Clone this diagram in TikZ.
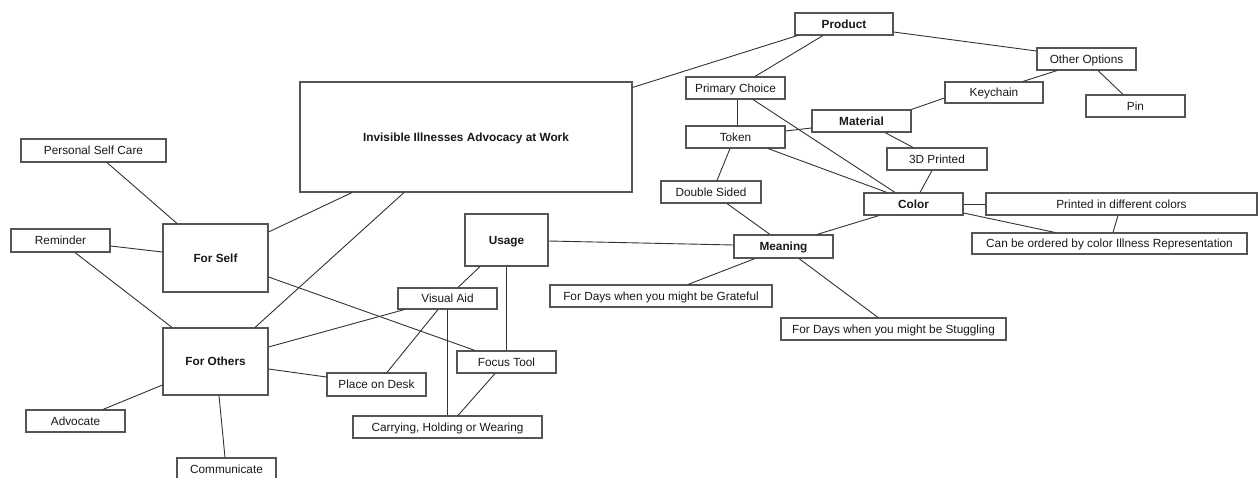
\documentclass[tikz,border=0pt]{standalone}
\usepackage{fontspec}
\setmainfont{Liberation Sans}
\usepackage{xcolor}
\usepackage{tikz}
\usetikzlibrary{positioning}
\definecolor{cborder}{RGB}{85,85,85}
\definecolor{cline}{RGB}{50,50,50}
\definecolor{ctext}{RGB}{25,25,25}

\begin{document}
\begin{tikzpicture}[x=1pt, y=-1pt,
    % Box styles
    item/.style={draw=cborder, line width=1.1pt, fill=white, inner sep=0pt,
                 minimum width=99pt, minimum height=22pt, text=ctext,
                 text height=8.5pt, text depth=0pt,
                 font=\fontsize{11.8}{13}\selectfont},
    topic/.style={item, font=\fontsize{11.8}{13}\selectfont\bfseries},
    link/.style={line width=0.9pt, color=cline},
  ]
  \useasboundingbox (0,0) rectangle (1258,478);

  % ===== CENTER: main topic =====
  \node[topic, minimum width=332pt, minimum height=110pt]
    (main) at (466, 137) {Invisible Illnesses Advocacy at Work};

  % ===== LEFT: For Self / For Others =====
  \node[topic, minimum width=105pt, minimum height=68pt] (self) at (215.5, 258) {For Self};
  \node[topic, minimum width=105pt, minimum height=67pt] (others) at (215.5, 361.5) {For Others};
  \node[item, minimum width=145pt, minimum height=23pt] (selfcare) at (93.5, 150.5) {Personal Self Care};
  \node[item, minimum height=23pt] (reminder) at (60.5, 240.5) {Reminder};
  \node[item] (advocate) at (75.5, 421) {Advocate};
  \node[item] (communicate) at (226.5, 469) {Communicate};

  \draw[link] ([xshift=13.5pt]selfcare.south) -- ([xshift=-38.5pt]self.north);
  \draw[link] ([yshift=-5.5pt]reminder.east) -- ([yshift=6pt]self.west);
  \draw[link] ([xshift=14.5pt]reminder.south) -- ([xshift=-43.5pt]others.north);
  \draw[link] ([yshift=-23.5pt]others.west) -- ([xshift=27.5pt]advocate.north);
  \draw[link] ([xshift=3.5pt]others.south) -- ([xshift=-1.5pt]communicate.north);
  \draw[link] ([yshift=26pt]self.east) -- ([xshift=-114pt]main.south);
  \draw[link] ([xshift=39.5pt]others.north) -- ([xshift=-62pt]main.south);

  % ===== MIDDLE: Usage =====
  \node[topic, minimum width=83pt, minimum height=52pt] (usage) at (506.5, 240) {Usage};
  \node[item, minimum height=21pt] (visual) at (447.5, 298.5) {Visual Aid};
  \node[item] (focus) at (506.5, 362) {Focus Tool};
  \node[item, minimum height=23pt] (desk) at (376.5, 384.5) {Place on Desk};
  \node[item, minimum width=189pt] (carry) at (447.5, 427) {Carrying, Holding or Wearing};

  \draw[link] ([yshift=-19pt]self.east) -- ([xshift=-31.5pt]focus.north);
  \draw[link] ([yshift=14.5pt]others.east) -- ([xshift=7pt]visual.south west);
  \draw[link] ([yshift=-7.5pt]others.east) -- ([yshift=7.5pt]desk.west);
  \draw[link] ([xshift=-26.5pt]usage.south) -- ([xshift=10.5pt]visual.north);
  \draw[link] (usage.south) -- (focus.north);
  \draw[link] ([xshift=-9.5pt]visual.south) -- ([xshift=10.5pt]desk.north);
  \draw[link] (visual.south) -- (carry.north);
  \draw[link] ([xshift=-11.5pt]focus.south) -- ([xshift=10.5pt]carry.north);

  % ===== Meaning =====
  \node[topic, minimum height=23pt] (meaning) at (783.5, 246.5) {Meaning};
  \node[item, minimum width=222pt] (grateful) at (661, 296) {For Days when you might be Grateful};
  \node[item, minimum width=225pt] (struggle) at (893.5, 329) {For Days when you might be Stuggling};

  \draw[link] ([yshift=-1pt]usage.east) -- ([yshift=1.5pt]meaning.west);
  \draw[link] ([xshift=-28.5pt]meaning.south) -- ([xshift=27pt]grateful.north);
  \draw[link] ([xshift=15.5pt]meaning.south) -- ([xshift=-15.5pt]struggle.north);

  % ===== RIGHT: Product =====
  \node[topic, minimum width=98pt] (product) at (844, 24) {Product};
  \node[item] (primary) at (735.5, 88) {Primary Choice};
  \node[item] (token) at (735.5, 137) {Token};
  \node[topic] (material) at (861.5, 121) {Material};
  \node[item, minimum width=100pt] (printed) at (937, 159) {3D Printed};
  \node[item, minimum width=100pt] (double) at (711, 192) {Double Sided};
  \node[topic] (color) at (913.5, 204) {Color};
  \node[item] (options) at (1086.5, 59) {Other Options};
  \node[item, minimum width=98pt, minimum height=21pt] (keychain) at (994, 92.5) {Keychain};
  \node[item] (pin) at (1135.5, 106) {Pin};
  \node[item, minimum width=271pt] (colors) at (1121.5, 204) {Printed in different colors};
  \node[item, minimum width=275pt, minimum height=21pt] (ordered) at (1109.5, 243.5)
    {Can be ordered by color Illness Representation};

  \draw[link] ([yshift=-6pt]main.north east) -- ([xshift=3pt]product.south west);
  \draw[link] ([xshift=-21pt]product.south) -- ([xshift=19.5pt]primary.north);
  \draw[link] ([yshift=-8pt]product.east) -- ([yshift=8pt]options.west);
  \draw[link] ([xshift=1.5pt]primary.south) -- ([xshift=1.5pt]token.north);
  \draw[link] ([xshift=17.5pt]primary.south) -- ([xshift=-18.5pt]color.north);
  \draw[link] ([yshift=6pt]token.east) -- ([yshift=-7pt]material.west);
  \draw[link] ([xshift=32.5pt]token.south) -- ([xshift=-26.5pt]color.north);
  \draw[link] ([xshift=-5.5pt]token.south) -- ([xshift=6pt]double.north);
  \draw[link] ([xshift=23.5pt]material.south) -- ([xshift=-24pt]printed.north);
  \draw[link] (material.north east) -- ([yshift=-5.5pt]keychain.west);
  \draw[link] ([xshift=-5pt]printed.south) -- ([xshift=6.5pt]color.north);
  \draw[link] ([xshift=16pt]double.south) -- ([xshift=-13.5pt]meaning.north);
  \draw[link] ([xshift=-34.5pt]color.south) -- ([xshift=33.5pt]meaning.north);
  \draw[link] ([xshift=-29.5pt]options.south) -- ([xshift=29pt]keychain.north);
  \draw[link] ([xshift=11.5pt]options.south) -- ([xshift=-12.5pt]pin.north);
  \draw[link] (color.east) -- (colors.west);
  \draw[link] ([yshift=-9pt]color.east) -- ([xshift=-54.5pt]ordered.north);
  \draw[link] ([xshift=-3.5pt]colors.south) -- ([xshift=3.5pt]ordered.north);

\end{tikzpicture}
\end{document}
